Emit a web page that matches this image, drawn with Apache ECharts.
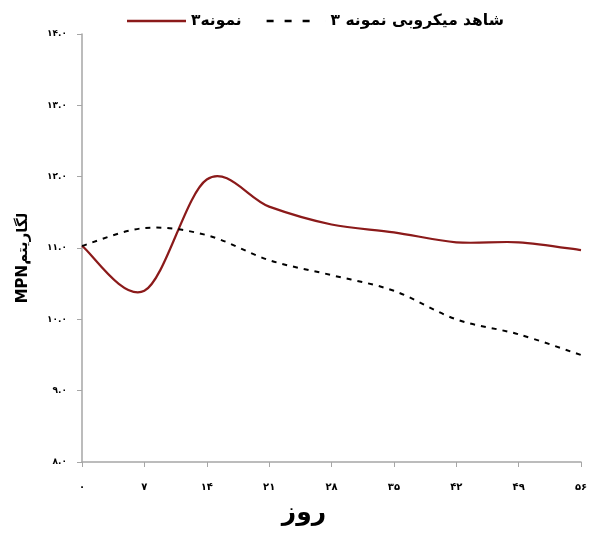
<!DOCTYPE html>
<html><head><meta charset="utf-8">
<script src="https://cdn.jsdelivr.net/npm/echarts@6/dist/echarts.min.js"></script>
<style>html,body{margin:0;padding:0;background:#fff}#c{width:591px;height:533px}</style>
</head><body><div id="c"></div>
<script>
const days = ['۰','۷','۱۴','۲۱','۲۸','۳۵','۴۲','۴۹','۵۶'];
const sample3 = [11.03, 10.40, 11.96, 11.58, 11.33, 11.22, 11.08, 11.08, 10.97];
const control3 = [11.03, 11.28, 11.18, 10.83, 10.62, 10.40, 10.00, 9.79, 9.50];
const yTickLabels = ['۸.۰','۹.۰','۱۰.۰','۱۱.۰','۱۲.۰','۱۳.۰','۱۴.۰'];
const seriesNames = ['نمونه۳', 'شاهد میکروبی نمونه ۳'];
const xName = 'روز';
const yName = 'MPNلگاریتم';

const font = 'DejaVu Sans';
const RED = '#8b1a1a';

// Excel-style smoothed curve (Catmull-Rom, 1/6 tangents) drawn through the axes' own coordinates
function smoothPath(api, values) {
  const pts = values.map((v, i) => api.coord([i, v]));
  const n = pts.length;
  let d = 'M' + pts[0][0] + ' ' + pts[0][1];
  for (let i = 0; i < n - 1; i++) {
    const p0 = pts[Math.max(i - 1, 0)], p1 = pts[i], p2 = pts[i + 1], p3 = pts[Math.min(i + 2, n - 1)];
    const c1x = p1[0] + (p2[0] - p0[0]) / 6, c1y = p1[1] + (p2[1] - p0[1]) / 6;
    const c2x = p2[0] - (p3[0] - p1[0]) / 6, c2y = p2[1] - (p3[1] - p1[1]) / 6;
    d += ' C' + c1x + ' ' + c1y + ' ' + c2x + ' ' + c2y + ' ' + p2[0] + ' ' + p2[1];
  }
  return d;
}
function curveSeries(name, values, color, width, dash) {
  return {
    name: name, type: 'custom', coordinateSystem: 'cartesian2d',
    data: values.map((v, i) => [i, v]),
    encode: {x: 0, y: 1},
    itemStyle: {color: color},
    clip: false,
    renderItem: function (params, api) {
      if (params.dataIndex !== 0) return null;
      return {
        type: 'path',
        shape: {pathData: smoothPath(api, values)},
        style: {fill: null, stroke: color, lineWidth: width, lineDash: dash, lineCap: 'butt'}
      };
    }
  };
}

const chart = echarts.init(document.getElementById('c'), null, {renderer:'canvas'});
chart.setOption({
  animation: false,
  backgroundColor: '#fff',
  textStyle: {fontFamily: font},
  legend: {
    top: 8, left: 122,
    itemWidth: 59, itemHeight: 2.6, itemGap: 25,
    symbolKeepAspect: false,
    textStyle: {fontFamily: font, fontWeight: 'bold', fontSize: 15.5, color: '#000'},
    data: [
      {name: seriesNames[0], icon: 'rect'},
      {name: seriesNames[1], icon: 'path://M0,0h7v2h-7z M18,0h7v2h-7z M36,0h7v2h-7z M58.99,0h0.01v2h-0.01z'}
    ]
  },
  grid: {left: 82, right: 10, top: 34, bottom: 71, containLabel: false},
  xAxis: {
    type: 'category', data: days, boundaryGap: false,
    axisLine: {lineStyle: {color: '#a6a6a6', width: 1.5}},
    axisTick: {show: true, alignWithLabel: true, length: 5, lineStyle: {color: '#a6a6a6'}},
    axisLabel: {margin: 20, fontFamily: font, fontWeight: 'bold', fontSize: 10, color: '#000'},
    splitLine: {show: false}
  },
  yAxis: {
    type: 'value', min: 8, max: 14, interval: 1,
    axisLine: {show: true, lineStyle: {color: '#a6a6a6', width: 1.5}},
    axisTick: {show: true, length: 5, lineStyle: {color: '#a6a6a6'}},
    axisLabel: {margin: 15, fontFamily: font, fontWeight: 'bold', fontSize: 9, color: '#000',
      formatter: v => yTickLabels[Math.round(v) - 8]},
    splitLine: {show: false}
  },
  graphic: [
    {type: 'text', x: 23, y: 258, rotation: Math.PI / 2,
      style: {text: yName, fontFamily: font, fontWeight: 'bold', fontSize: 15, fill: '#000', align: 'center', verticalAlign: 'middle'}},
    {type: 'text', x: 304, y: 513,
      style: {text: xName, fontFamily: font, fontWeight: 'bold', fontSize: 25, fill: '#000', align: 'center', verticalAlign: 'middle'}}
  ],
  series: [
    curveSeries(seriesNames[0], sample3, RED, 2.2, null),
    curveSeries(seriesNames[1], control3, '#000', 2, [5, 6])
  ]
});
</script></body></html>
